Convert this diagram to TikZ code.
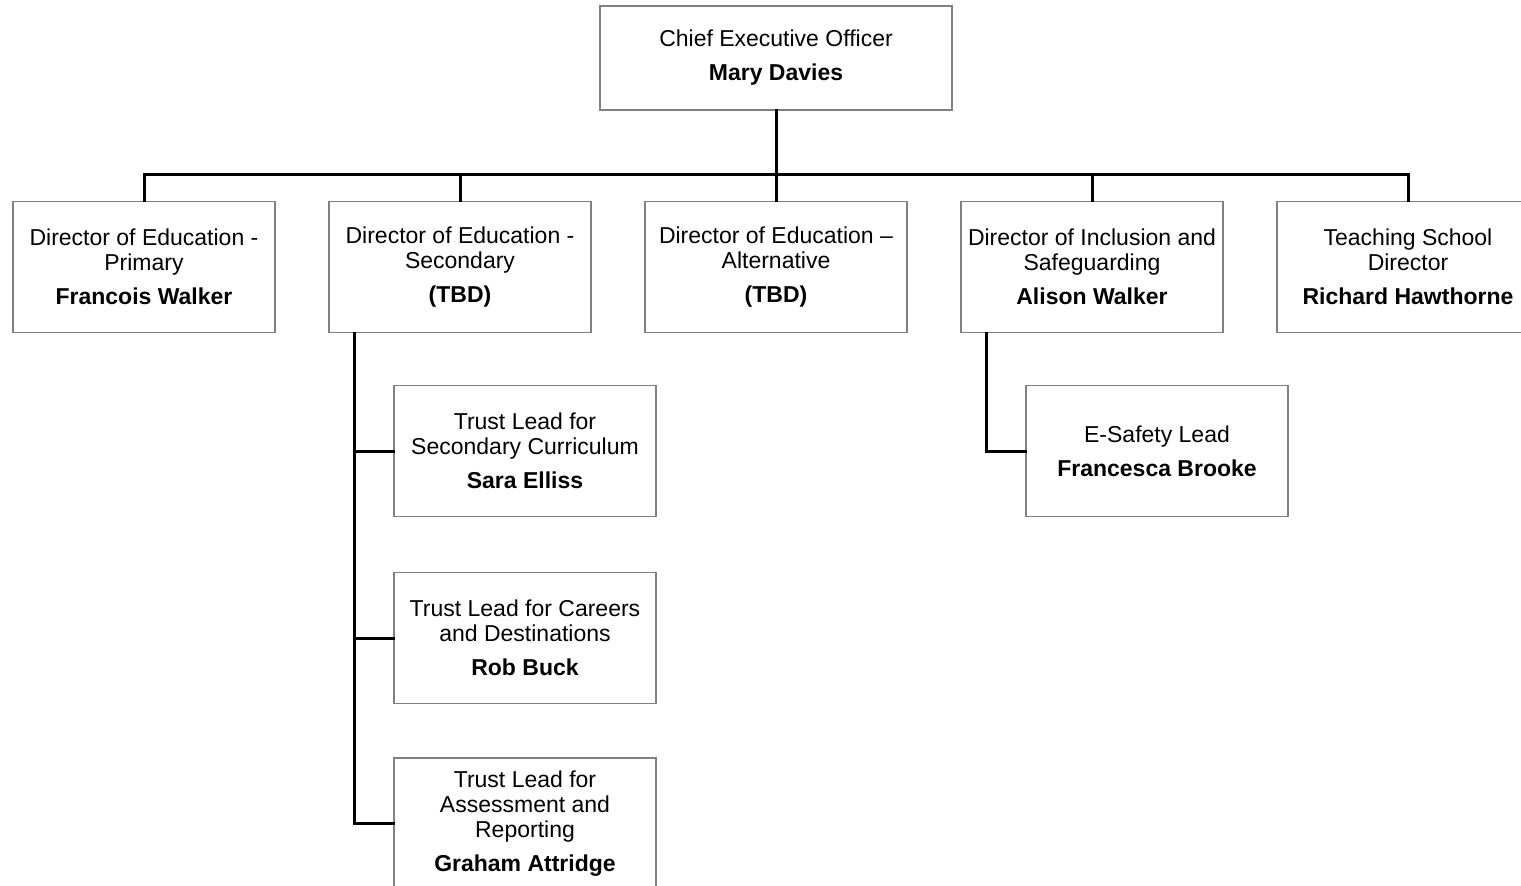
\documentclass[tikz,border=0pt]{standalone}
\usepackage{fontspec}
\setmainfont{Liberation Sans}
\usetikzlibrary{positioning}
\begin{document}
\begin{tikzpicture}[x=0.5pt, y=-0.5pt,
  orgbox/.style={draw=black!50, line width=0.6pt, fill=white, minimum width=131pt,
    minimum height=65.5pt, inner sep=0pt, align=center,
    font=\fontsize{11.5}{12.5}\selectfont},
  link/.style={line width=1.5pt, line cap=rect}]
\useasboundingbox (0,0) rectangle (1521,885);

% Chief executive
\node[orgbox, minimum width=176pt, minimum height=52pt] (ceo) at (776,58)
  {Chief Executive Officer\\[4.5pt]\textbf{Mary Davies}};

% Directors row
\node[orgbox] (dprim) at (144,267)
  {Director of Education -\\Primary\\[4.5pt]\textbf{Francois Walker}};
\node[orgbox] (dsec) at (460,267)
  {Director of Education -\\Secondary\\[4.5pt]\textbf{(TBD)}};
\node[orgbox] (dalt) at (776,267)
  {Director of Education --\\Alternative\\[4.5pt]\textbf{(TBD)}};
\node[orgbox] (dincl) at (1092,267)
  {Director of Inclusion and\\Safeguarding\\[4.5pt]\textbf{Alison Walker}};
\node[orgbox] (dteach) at (1408,267)
  {Teaching School\\Director\\[4.5pt]\textbf{Richard Hawthorne}};

% Secondary leads
\node[orgbox] (lcurr) at (525,451)
  {Trust Lead for\\Secondary Curriculum\\[4.5pt]\textbf{Sara Elliss}};
\node[orgbox, below=27.5pt of lcurr] (lcareer)
  {Trust Lead for Careers\\and Destinations\\[4.5pt]\textbf{Rob Buck}};
\node[orgbox, below=26.5pt of lcareer] (lassess)
  {Trust Lead for\\Assessment and\\Reporting\\[4.5pt]\textbf{Graham Attridge}};

% Inclusion lead
\node[orgbox] (esafe) at (1157,451)
  {E-Safety Lead\\[4.5pt]\textbf{Francesca Brooke}};

% Connectors
\coordinate (bar) at (776,174);
\draw[link] (ceo.south) -- (bar);
\draw[link] (bar -| dprim) -- (bar -| dteach);
\foreach \d in {dprim,dsec,dalt,dincl,dteach}
  \draw[link] (bar -| \d) -- (\d.north);

\coordinate (secspine) at ([xshift=13pt]dsec.south west);
\foreach \l in {lcurr,lcareer,lassess}
  \draw[link] (secspine) |- (\l.west);

\coordinate (inclspine) at ([xshift=13pt]dincl.south west);
\draw[link] (inclspine) |- (esafe.west);
\end{tikzpicture}
\end{document}
